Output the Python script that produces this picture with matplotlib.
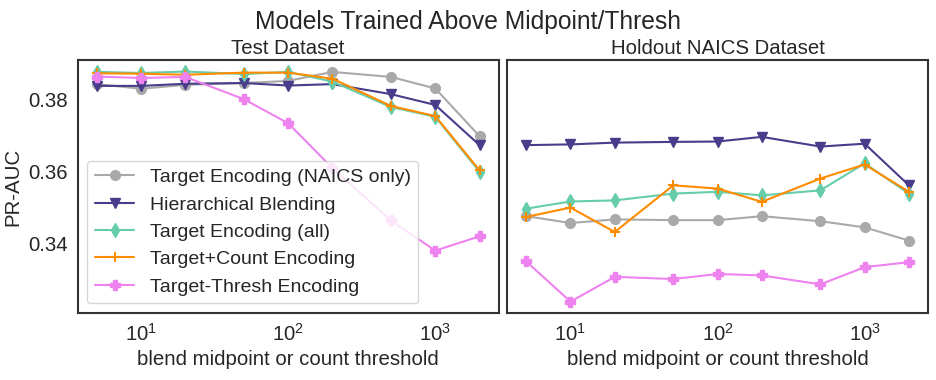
# -*- coding: utf-8 -*-
# PR-AUC vs blend midpoint / count threshold, test and holdout NAICS datasets
import numpy as np
import matplotlib.pyplot as plt
import seaborn as sns

# ---- data ----
thresh = [5, 10, 20, 50, 100, 200, 500, 1000, 2000]

labels = ['Target Encoding (NAICS only)', 'Hierarchical Blending',
          'Target Encoding (all)', 'Target+Count Encoding',
          'Target-Thresh Encoding']

# Test Dataset
test_naics = [0.3844, 0.3831, 0.3842, 0.3847, 0.3853, 0.3878, 0.3864, 0.3832, 0.3699]
test_hier  = [0.3839, 0.3839, 0.3845, 0.3847, 0.3840, 0.3844, 0.3816, 0.3786, 0.3674]
test_all   = [0.3878, 0.3875, 0.3879, 0.3872, 0.3878, 0.3851, 0.3780, 0.3753, 0.3600]
test_count = [0.3874, 0.3873, 0.3870, 0.3876, 0.3876, 0.3859, 0.3783, 0.3755, 0.3604]
test_tth   = [0.3865, 0.3861, 0.3864, 0.3802, 0.3735, 0.3610, 0.3464, 0.3380, 0.3420]

# Holdout NAICS Dataset
hold_naics = [0.3476, 0.3457, 0.3467, 0.3465, 0.3465, 0.3476, 0.3462, 0.3445, 0.3408]
hold_hier  = [0.3674, 0.3676, 0.3681, 0.3683, 0.3684, 0.3697, 0.3670, 0.3678, 0.3562]
hold_all   = [0.3497, 0.3517, 0.3520, 0.3539, 0.3544, 0.3534, 0.3548, 0.3623, 0.3539]
hold_count = [0.3474, 0.3500, 0.3432, 0.3562, 0.3553, 0.3516, 0.3581, 0.3620, 0.3544]
hold_tth   = [0.3350, 0.3238, 0.3307, 0.3301, 0.3315, 0.3311, 0.3286, 0.3334, 0.3348]

# ---- style ----
sns.set_style('white')
plt.rcParams['font.family'] = ['Liberation Sans', 'DejaVu Sans']

colors  = ['darkgray', 'darkslateblue', 'mediumaquamarine', 'darkorange', 'violet']
markers = ['o', 'v', 'd', '+', 'P']
fs = 14.7

fig, axes = plt.subplots(1, 2, figsize=(9.36, 3.8), dpi=100, sharey=True)
fig.subplots_adjust(left=0.083, right=0.9915, bottom=0.176, top=0.842, wspace=0.02)

panels = [
    ('Test Dataset', [test_naics, test_hier, test_all, test_count, test_tth]),
    ('Holdout NAICS Dataset', [hold_naics, hold_hier, hold_all, hold_count, hold_tth]),
]

for ax, (title, series) in zip(axes, panels):
    for vals, lab, col, mk in zip(series, labels, colors, markers):
        ax.plot(thresh, vals, color=col, marker=mk, lw=1.5, ms=7,
                mew=1.5 if mk == '+' else 1.0, label=lab)
    ax.set_xscale('log')
    ax.set_title(title, fontsize=fs, pad=4, color='#262626')
    ax.set_xlabel('blend midpoint or count threshold', fontsize=fs, color='#262626')
    ax.tick_params(labelsize=fs, colors='#262626')
    for sp in ax.spines.values():
        sp.set_color('#333333')
        sp.set_linewidth(1.5)

axes[0].set_ylabel('PR-AUC', fontsize=fs, color='#262626')
axes[0].set_yticks([0.34, 0.36, 0.38])
axes[0].legend(loc='lower left', fontsize=14, frameon=True)

fig.suptitle('Models Trained Above Midpoint/Thresh', fontsize=17.7, y=0.975, color='#262626')

plt.savefig('out.png', dpi=100)
plt.close(fig)
